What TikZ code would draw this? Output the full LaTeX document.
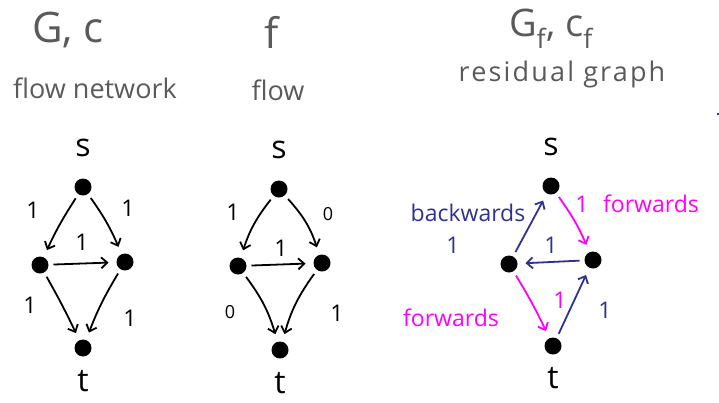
\documentclass[tikz,border=0pt]{standalone}
\usepackage{fontspec}
\setmainfont{Open Sans}
\usetikzlibrary{arrows.meta,positioning}
\definecolor{pencilgray}{HTML}{5A5A5A}
\definecolor{backblue}{HTML}{2E3192}
\definecolor{fwdpink}{HTML}{FF00FF}
\definecolor{ink}{HTML}{000000}

\begin{document}
\begin{tikzpicture}[
    x=1pt, y=-1pt,
    text=ink,
    dot/.style={circle, fill=ink, minimum size=17pt, inner sep=0pt, outer sep=5pt},
    vertexname/.style={font=\fontsize{32}{32}\selectfont, inner sep=0pt},
    title/.style={font=\fontsize{42}{42}\selectfont, text=pencilgray, inner sep=0pt},
    subtitle/.style={font=\fontsize{27}{27}\selectfont, text=pencilgray, inner sep=0pt},
    capval/.style={font=\fontsize{23}{23}\selectfont, inner sep=0pt},
    zero/.style={font=\fontsize{18}{18}\selectfont, inner sep=0pt},
    word/.style={font=\fontsize{23}{23}\selectfont, inner sep=0pt},
    arrow/.style={-{Straight Barb[length=6pt,width=11pt,line width=1.8pt]},
        line width=1.8pt, draw=ink, shorten >=3pt},
    backarrow/.style={arrow, draw=backblue},
    fwdarrow/.style={arrow, draw=fwdpink}
]
\useasboundingbox (0,0) rectangle (719,402);

% headings
\node[title] (tnet) at (68,30) {G, c};
\node[subtitle] (snet) at (95,88) {flow network};
\node[title] (tflow) at (272,32) {f};
\node[subtitle] (sflow) at (278,90) {flow};
\node[title, font=\fontsize{38}{38}\selectfont] (tres) at (551,29) {G\textsubscript{f}, c\textsubscript{f}};
\node[subtitle] (sres) at (562,74) {\addfontfeature{LetterSpace=8}residual graph};
\fill[backblue] (717,113) rectangle (719,115);

% flow network
\node[dot] (s1) at (83,187) {};
\node[dot] (l1) at (40,265) {};
\node[dot] (r1) at (125,262) {};
\node[dot] (t1) at (83,348) {};
\node[vertexname, above=16pt of s1] (s1name) {s};
\node[vertexname, below=9pt of t1] (t1name) {t};

\draw[arrow] (s1) to[bend right=4] (l1);
\draw[arrow] (s1) to[bend left=6] (r1);
\draw[arrow] (l1) -- (r1);
\draw[arrow] (l1) to[bend left=2] (t1);
\draw[arrow] (r1) to[bend right=5] (t1);

\node[capval] (c1a) at (33,210) {1};
\node[capval] (c1b) at (128,208) {1};
\node[capval] (c1c) at (82,242) {1};
\node[capval] (c1d) at (30,305) {1};
\node[capval] (c1e) at (130,318) {1};

% flow
\node[dot] (s2) at (279,189) {};
\node[dot] (l2) at (238,266) {};
\node[dot] (r2) at (322,263) {};
\node[dot] (t2) at (280,350) {};
\node[vertexname, above=16pt of s2] (s2name) {s};
\node[vertexname, below=9pt of t2] (t2name) {t};

\draw[arrow] (s2) to[bend right=10] (l2);
\draw[arrow] (s2) to[bend left=12] (r2);
\draw[arrow] (l2) -- (r2);
\draw[arrow] (l2) to[bend left=10] (t2);
\draw[arrow] (r2) to[bend right=10] (t2);

\node[capval] (f2a) at (233,212) {1};
\node[zero] (f2b) at (328,214) {0};
\node[capval] (f2c) at (281,248) {1};
\node[zero] (f2d) at (230,312) {0};
\node[capval] (f2e) at (337,313) {1};

% residual graph
\node[dot] (s3) at (551,186) {};
\node[dot] (l3) at (509,264) {};
\node[dot] (r3) at (593,260) {};
\node[dot] (t3) at (553,346) {};
\node[vertexname, above=16pt of s3] (s3name) {s};
\node[vertexname, below=8pt of t3] (t3name) {t};

\draw[backarrow] (l3) -- (s3);
\draw[fwdarrow] (s3) to[bend left=6] (r3);
\draw[backarrow] (r3) -- (l3);
\draw[fwdarrow] (l3) to[bend left=3] (t3);
\draw[backarrow] (t3) -- (r3);

\node[word, text=backblue] (wback) at (468,213) {backwards};
\node[capval, text=backblue] (g3a) at (453,245) {1};
\node[capval, text=fwdpink] (g3b) at (582,204) {1};
\node[word, text=fwdpink] (wfwda) at (651,204) {forwards};
\node[capval, text=backblue] (g3c) at (551,245) {1};
\node[word, text=fwdpink] (wfwdb) at (451,318) {forwards};
\node[capval, text=fwdpink] (g3d) at (560,300) {1};
\node[capval, text=backblue] (g3e) at (605,310) {1};

\end{tikzpicture}
\end{document}
